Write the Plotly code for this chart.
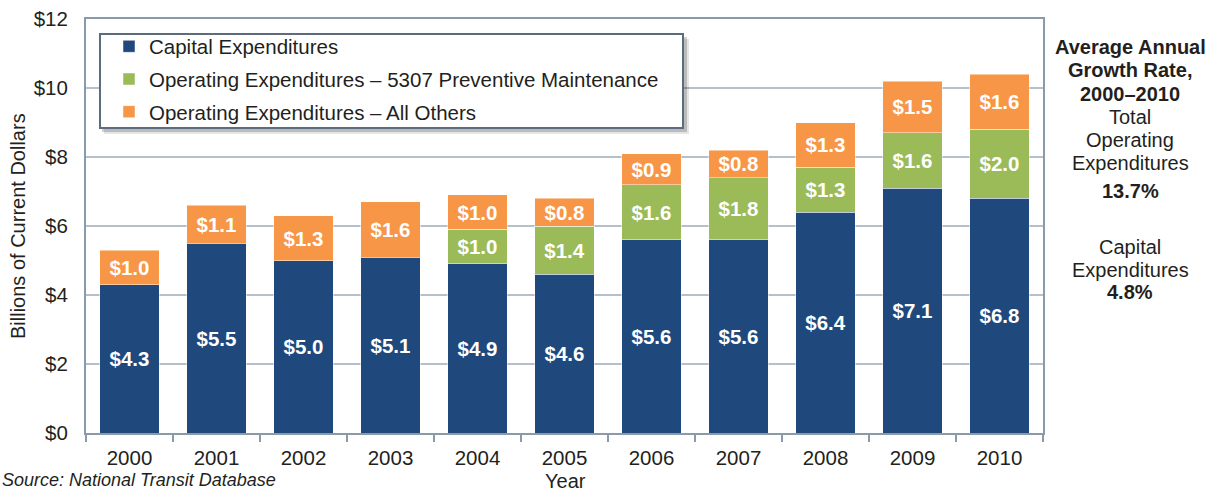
import plotly.graph_objects as go

years = ["2000", "2001", "2002", "2003", "2004", "2005", "2006", "2007", "2008", "2009", "2010"]
capital = [4.3, 5.5, 5.0, 5.1, 4.9, 4.6, 5.6, 5.6, 6.4, 7.1, 6.8]
preventive = [None, None, None, None, 1.0, 1.4, 1.6, 1.8, 1.3, 1.6, 2.0]
others = [1.0, 1.1, 1.3, 1.6, 1.0, 0.8, 0.9, 0.8, 1.3, 1.5, 1.6]
series_names = ["Capital Expenditures",
                "Operating Expenditures \u2013 5307 Preventive Maintenance",
                "Operating Expenditures \u2013 All Others"]
colors = ["#1f497d", "#9bbb59", "#f79646"]
y_ticks = [0, 2, 4, 6, 8, 10, 12]
y_tick_labels = ["$0", "$2", "$4", "$6", "$8", "$10", "$12"]
side_lines = [("<b>Average Annual</b>", 47), ("<b>Growth Rate,</b>", 70), ("<b>2000\u20132010</b>", 93.5),
              ("Total", 116.5), ("Operating", 140), ("Expenditures", 163), ("<b>13.7%</b>", 191.5),
              ("Capital", 246.5), ("Expenditures", 270), ("<b>4.8%</b>", 292)]

FONT = "Arial, Liberation Sans, sans-serif"
TXT = "#231f20"
FS = 20.5

# plot area in pixels
L, R, T, B = 86, 1043, 19, 433
W, H = 1219, 492
def px(x):
    return (x - L) / (R - L)
def py(y):
    return (B - y) / (B - T)

fig = go.Figure()
for name, vals, col in zip(series_names, [capital, preventive, others], colors):
    fig.add_trace(go.Bar(
        x=years, y=vals, name=name, legendgroup=name,
        marker=dict(color=col, line=dict(color="rgba(255,255,255,0.6)", width=0.8)),
        texttemplate="$%{y:.1f}", textposition="inside", insidetextanchor="middle",
        constraintext="none", textangle=0,
        textfont=dict(family=FONT, size=FS, color="white", weight="bold"),
    ))

fig.update_layout(
    barmode="stack", bargap=0.32,
    width=W, height=H,
    margin=dict(l=L, r=W - R, t=T, b=H - B),
    paper_bgcolor="white", plot_bgcolor="white",
    font=dict(family=FONT, size=FS, color=TXT),
    showlegend=True,
    legend=dict(x=px(109), y=py(26.5), xanchor="left", yanchor="top",
                bgcolor="rgba(0,0,0,0)", borderwidth=0,
                traceorder="grouped", tracegroupgap=3,
                font=dict(family=FONT, size=FS, color=TXT)),
)
fig.update_xaxes(
    automargin=False,
    showline=True, linecolor="#8b9aa8", linewidth=2, mirror=True,
    ticks="outside", tickson="boundaries", ticklen=7, tickcolor="#8b9aa8", tickwidth=2,
    tickfont=dict(size=FS, color=TXT), ticklabelstandoff=5,
)
fig.update_yaxes(
    automargin=False,
    range=[0, 12], tickvals=y_ticks, ticktext=y_tick_labels,
    showline=True, linecolor="#8b9aa8", linewidth=2, mirror=True,
    showgrid=True, gridcolor="#b4c0cb", gridwidth=1.5,
    tickfont=dict(size=FS, color=TXT), ticks="", ticklabelstandoff=12,
)

# legend box with shadow
fig.add_shape(type="rect", xref="paper", yref="paper",
              x0=px(104), x1=px(689), y0=py(134), y1=py(39),
              fillcolor="rgba(0,0,0,0.10)", line=dict(width=0), layer="above")
fig.add_shape(type="rect", xref="paper", yref="paper",
              x0=px(102), x1=px(687), y0=py(132), y1=py(37),
              fillcolor="rgba(0,0,0,0.18)", line=dict(width=0), layer="above")
fig.add_shape(type="rect", xref="paper", yref="paper",
              x0=px(100), x1=px(683), y0=py(128), y1=py(34),
              fillcolor="white", line=dict(color="#5a6c7e", width=2), layer="above")

# axis titles
fig.add_annotation(xref="paper", yref="paper", x=px(18), y=py(226), xanchor="center", yanchor="middle",
                   textangle=-90, showarrow=False, text="Billions of Current Dollars",
                   font=dict(size=FS - 0.5, color=TXT))
fig.add_annotation(xref="paper", yref="paper", x=px(565), y=py(481), xanchor="center", yanchor="middle",
                   showarrow=False, text="Year", font=dict(size=FS - 0.5, color=TXT))

for txt, yy in side_lines:
    fig.add_annotation(xref="paper", yref="paper", x=px(1130), y=py(yy), xanchor="center", yanchor="middle",
                       showarrow=False, text=txt, font=dict(size=FS - 0.5, color=TXT))

fig.add_annotation(xref="paper", yref="paper", x=px(0), y=py(492), xanchor="left", yanchor="bottom",
                   showarrow=False, align="left", font=dict(size=18, color=TXT),
                   text="<i>Source: National Transit Database</i>")

fig.write_html("out.html", config={"displayModeBar": False},
               post_script="document.body.style.margin='0';document.body.style.padding='0';"
                           "document.body.style.overflow='hidden';")
